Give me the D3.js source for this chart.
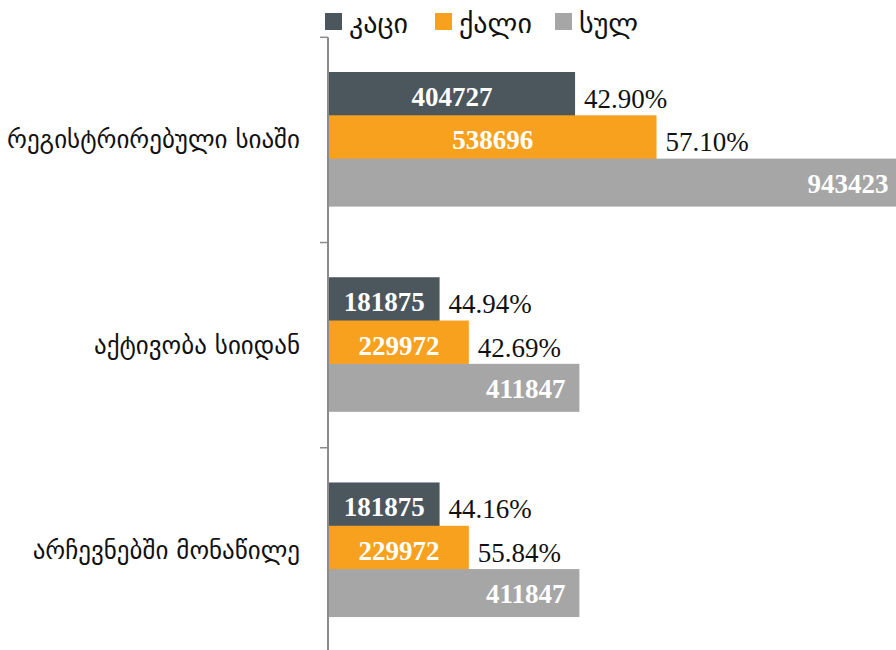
<!DOCTYPE html>
<html><head><meta charset="utf-8">
<script src="https://cdn.jsdelivr.net/npm/d3@7/dist/d3.min.js"></script>
<style>
html,body{margin:0;padding:0;background:#fff;overflow:hidden;}
svg{display:block;}
</style></head>
<body>
<svg id="chart" width="896" height="650"></svg>
<script>
const categories = ["რეგისტრირებული სიაში", "აქტივობა სიიდან", "არჩევნებში მონაწილე"];
const seriesNames = ["კაცი", "ქალი", "სულ"];
const menValues = [404727, 181875, 181875];
const womenValues = [538696, 229972, 229972];
const totalValues = [943423, 411847, 411847];
const menPct = ["42.90%", "44.94%", "44.16%"];
const womenPct = ["57.10%", "42.69%", "55.84%"];
const colors = ["#4b575d", "#f8a11f", "#a6a6a6"];

const svg = d3.select("#chart");
const geoFont = "'DejaVu Sans', sans-serif";
const numFont = "'Liberation Serif', 'DejaVu Serif', serif";

const x = d3.scaleLinear().domain([0, 1000000]).range([329, 937]);
const y = d3.scaleBand().domain(categories).range([37.3, 653]).padding(0);
const inner = d3.scaleBand().domain(seriesNames).range([34.7, 164.6]).padding(0);
const barH = inner.bandwidth() + 4.7;

const rows = categories.map((c, i) => ({
  cat: c,
  bars: [
    {s: seriesNames[0], v: menValues[i], pct: menPct[i], inside: "center"},
    {s: seriesNames[1], v: womenValues[i], pct: womenPct[i], inside: "center"},
    {s: seriesNames[2], v: totalValues[i], pct: null, inside: "end"}
  ]
}));

const color = d3.scaleOrdinal().domain(seriesNames).range(colors);

const g = svg.selectAll("g.cat").data(rows).join("g")
  .attr("class", "cat")
  .attr("transform", d => `translate(0,${y(d.cat)})`);

g.selectAll("rect").data(d => d.bars).join("rect")
  .attr("x", x(0))
  .attr("y", d => inner(d.s))
  .attr("width", d => x(d.v) - x(0))
  .attr("height", barH)
  .attr("fill", d => color(d.s));

g.selectAll("text.val").data(d => d.bars).join("text")
  .attr("class", "val")
  .attr("x", d => d.inside === "center" ? (x(0) + x(d.v)) / 2 : x(d.v) - 14)
  .attr("y", d => inner(d.s) + barH / 2 + 1)
  .attr("text-anchor", d => d.inside === "center" ? "middle" : "end")
  .attr("dominant-baseline", "central")
  .attr("font-family", numFont)
  .attr("font-weight", "bold")
  .attr("font-size", 27)
  .attr("fill", "#fff")
  .text(d => d.v);

g.selectAll("text.pct").data(d => d.bars.filter(b => b.pct)).join("text")
  .attr("class", "pct")
  .attr("x", d => x(d.v) + 9)
  .attr("y", d => inner(d.s) + barH / 2 + 3)
  .attr("dominant-baseline", "central")
  .attr("font-family", numFont)
  .attr("font-size", 27)
  .attr("fill", "#111")
  .text(d => d.pct);

// axis
const axisG = svg.append("g");
axisG.append("line")
  .attr("x1", 328).attr("x2", 328)
  .attr("y1", y.range()[0]).attr("y2", y.range()[1])
  .attr("stroke", "#8c8c8c").attr("stroke-width", 2);
const bounds = categories.map(c => y(c)).concat([y.range()[1]]);
axisG.selectAll("line.tick").data(bounds).join("line")
  .attr("class", "tick")
  .attr("x1", 320).attr("x2", 328)
  .attr("y1", d => d).attr("y2", d => d)
  .attr("stroke", "#8c8c8c").attr("stroke-width", 1.5);

svg.append("g").selectAll("text").data(categories).join("text")
  .attr("x", 300)
  .attr("y", d => y(d) + y.bandwidth() / 2)
  .attr("text-anchor", "end")
  .attr("dominant-baseline", "central")
  .attr("font-family", geoFont)
  .attr("font-size", 25)
  .attr("fill", "#111")
  .text(d => d);

// legend
const legendX = [325, 435, 555];
const lg = svg.append("g").selectAll("g").data(seriesNames).join("g")
  .attr("transform", (d, i) => `translate(${legendX[i]},0)`);
lg.append("rect").attr("x", 0).attr("y", 13).attr("width", 17).attr("height", 17)
  .attr("fill", d => color(d));
lg.append("text").attr("x", 24).attr("y", 23)
  .attr("dominant-baseline", "central")
  .attr("font-family", geoFont).attr("font-size", 28).attr("fill", "#111")
  .text(d => d);
</script>
</body></html>
